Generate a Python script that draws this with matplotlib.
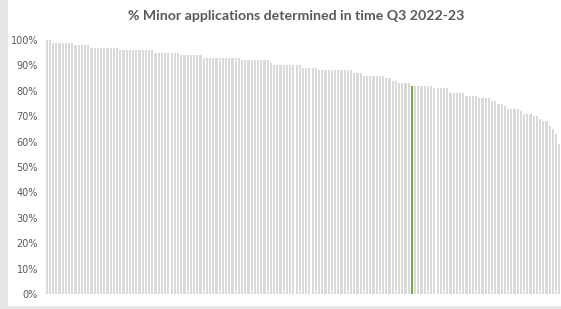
import matplotlib.pyplot as plt
from matplotlib.patches import Rectangle
from matplotlib.ticker import PercentFormatter

# share of minor applications determined in time, sorted high to low (%)
levels = [100, 99, 98, 97, 96, 95, 94, 93, 92, 91, 90, 89, 88, 87, 86, 85, 84, 83, 82,
          82, 81, 79, 78, 77, 76, 75, 74, 73, 72, 71, 70, 69, 68, 66, 65, 63, 59]
counts = [2, 7, 5, 9, 11, 8, 7, 12, 9, 1, 9, 5, 11, 3, 7, 2, 2, 4, 1,
          6, 5, 5, 4, 4, 2, 2, 1, 4, 1, 3, 2, 1, 2, 1, 1, 1, 1]
highlight = 114  # index of the highlighted authority

values = []
for lv, n in zip(levels, counts):
    values += [lv / 100] * n

colors = ['#d9d9d9'] * len(values)
colors[highlight] = '#70ad47'

fig = plt.figure(figsize=(5.61, 3.09), dpi=100)
fig.patch.set_facecolor('#e7e7e7')
fig.add_artist(Rectangle((8 / 561, 3 / 309), 553 / 561, 306 / 309,
                         transform=fig.transFigure, facecolor='white',
                         edgecolor='none', zorder=-5))

ax = fig.add_axes([45 / 561, 15 / 309, 516 / 561, 254 / 309])
ax.set_facecolor('none')
ax.bar(range(len(values)), values, width=0.68, color=colors, linewidth=0)

ax.set_xlim(-0.5, len(values) - 0.5)
ax.set_ylim(0, 1)
ax.set_yticks([i / 10 for i in range(11)])
ax.yaxis.set_major_formatter(PercentFormatter(1.0, decimals=0))
ax.tick_params(axis='y', length=0, pad=5, labelsize=7, labelcolor='#595959')
ax.set_xticks([])
for s in ax.spines.values():
    s.set_visible(False)

fig.text(296 / 561, 1 - 16 / 309, '% Minor applications determined in time Q3 2022-23',
         ha='center', va='center', fontsize=10.2, fontweight='bold',
         color='#595959', family='Lato')

fig.savefig('out.png', dpi=100, facecolor=fig.get_facecolor())
